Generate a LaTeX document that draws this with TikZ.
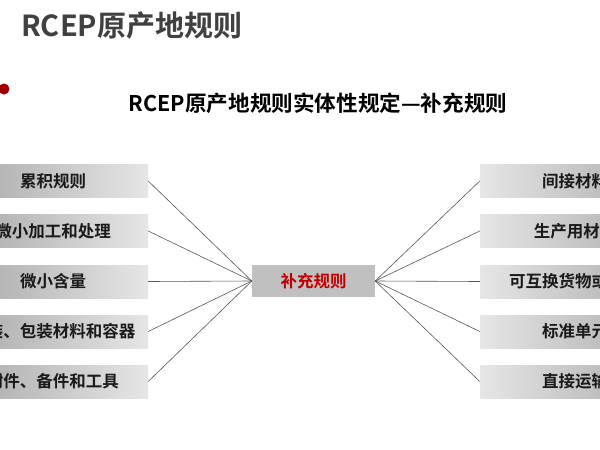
\documentclass[tikz,border=0pt]{standalone}
\usepackage{fontspec}
\setmainfont{Noto Sans CJK SC}[BoldFont={Noto Sans CJK SC Bold}]
\begin{document}
\begin{tikzpicture}[x=1pt,y=-1pt,
  lbox/.style={minimum width=190pt,minimum height=33pt,inner sep=0pt,left color=lgA,right color=lgB,font=\fontsize{16.5}{16.5}\selectfont\bfseries,text=txt},
  rbox/.style={minimum width=190pt,minimum height=33pt,inner sep=0pt,left color=lgB,right color=lgA,font=\fontsize{16.5}{16.5}\selectfont\bfseries,text=txt},
  cbox/.style={minimum width=123pt,minimum height=32pt,inner sep=0pt,fill=silver,font=\fontsize{16.5}{16.5}\selectfont\bfseries,text=redtxt},
  conn/.style={draw=linec,line width=0.6pt}]
\definecolor{lgA}{HTML}{A8A8A8}
\definecolor{lgB}{HTML}{E6E6E6}
\definecolor{txt}{HTML}{1A1A1A}
\definecolor{silver}{HTML}{C0C0C0}
\definecolor{redtxt}{HTML}{C00000}
\definecolor{linec}{HTML}{555555}
\definecolor{titlec}{HTML}{404040}
\definecolor{dotc}{HTML}{A00000}
\useasboundingbox (0,0) rectangle (600,450);
\fill[white] (0,0) rectangle (600,450);
\node[anchor=west,inner sep=0pt,text=titlec,font=\fontsize{29}{29}\selectfont\bfseries] (title) at (21,26) {RCEP原产地规则};
\fill[dotc] (4,89) circle (5.5);
\node[inner sep=0pt,text=black,font=\fontsize{21.6}{21.6}\selectfont\bfseries] (sub) at (318,103) {RCEP原产地规则实体性规定—补充规则};
\node[cbox] (c) at (313.5,281) {补充规则};
\node[lbox] (l1) at (53,181) {累积规则};
\node[lbox] (l2) at (53,231) {微小加工和处理};
\node[lbox] (l3) at (53,281.5) {微小含量};
\node[lbox] (l4) at (53,331.5) {包装、包装材料和容器};
\node[lbox] (l5) at (53,381.5) {附件、备件和工具};
\node[rbox] (r1) at (575,181) {间接材料};
\node[rbox] (r2) at (575,231) {生产用材料};
\node[rbox] (r3) at (575,281.5) {可互换货物或材料};
\node[rbox] (r4) at (575,331.5) {标准单元};
\node[rbox] (r5) at (575,381.5) {直接运输};
\foreach \i in {1,...,5}{
  \draw[conn] (c.west) -- (l\i.east);
  \draw[conn] (c.east) -- (r\i.west);
}
\end{tikzpicture}
\end{document}
